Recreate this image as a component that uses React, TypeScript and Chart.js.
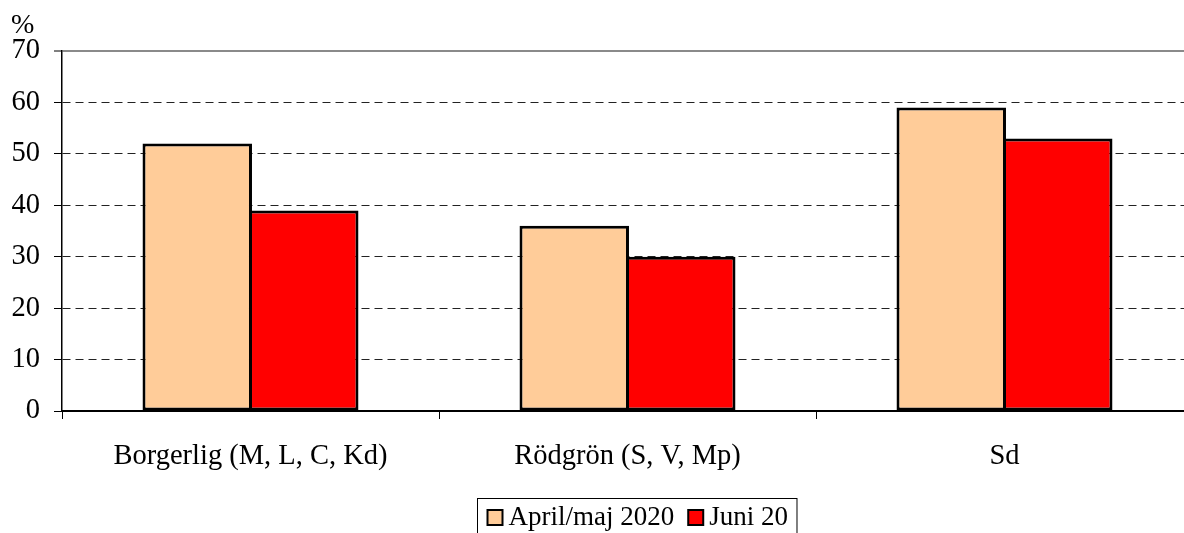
import React, { useEffect, useRef } from "react";
import { Chart, registerables } from "chart.js";

Chart.register(...registerables);

const categories = ["Borgerlig (M, L, C, Kd)", "Rödgrön (S, V, Mp)", "Sd"];
const seriesNames = ["April/maj 2020", "Juni 20"];
const aprilMaj2020 = [52, 36, 59];
const juni20 = [39, 30, 53];
const yTicks = [0, 10, 20, 30, 40, 50, 60, 70];
const unitLabel = "%";

const FONT = '"Liberation Serif", "Times New Roman", serif';

const extrasPlugin = {
  id: "extras",
  afterDraw(chart: any) {
    const ctx = chart.ctx as CanvasRenderingContext2D;
    ctx.save();
    // unit label
    ctx.font = `28px ${FONT}`;
    ctx.fillStyle = "#000";
    ctx.textAlign = "left";
    ctx.textBaseline = "alphabetic";
    ctx.fillText(unitLabel, 11, 33);

    // legend
    ctx.font = `27px ${FONT}`;
    const ds = chart.data.datasets;
    const sq = 15;
    const gapSqText = 6;
    const gapItems = 14;
    const padL = 10;
    const padR = 9;
    let total = padL + padR;
    const widths = ds.map((d: any) => ctx.measureText(d.label).width);
    widths.forEach((w: number, i: number) => {
      total += sq + gapSqText + w + (i < widths.length - 1 ? gapItems : 0);
    });
    const cx = 636.5;
    const left = Math.round(cx - total / 2) + 0.5;
    const top = 498.5;
    ctx.lineWidth = 1;
    ctx.strokeStyle = "#000";
    ctx.strokeRect(left, top, total, 60);
    let x = left + padL;
    const baseline = 525;
    ds.forEach((d: any, i: number) => {
      ctx.fillStyle = d.backgroundColor;
      ctx.fillRect(x, 510, sq, sq);
      ctx.lineWidth = 2;
      ctx.strokeStyle = "#000";
      ctx.strokeRect(x, 510, sq, sq);
      x += sq + gapSqText;
      ctx.fillStyle = "#000";
      ctx.fillText(d.label, x, baseline);
      x += widths[i] + gapItems;
    });
    ctx.restore();
  },
};

export default function App() {
  const ref = useRef<HTMLCanvasElement | null>(null);
  useEffect(() => {
    if (!ref.current) return;
    const chart = new Chart(ref.current, {
      type: "bar",
      data: {
        labels: categories,
        datasets: [
          {
            label: seriesNames[0],
            data: aprilMaj2020,
            backgroundColor: "#FFCC99",
            borderColor: "#000",
            borderWidth: 3,
            borderSkipped: false,
            inflateAmount: 0,
          },
          {
            label: seriesNames[1],
            data: juni20,
            backgroundColor: "#FF0000",
            borderColor: "#000",
            borderWidth: 3,
            borderSkipped: false,
            inflateAmount: 0,
          },
        ],
      },
      options: {
        animation: false,
        responsive: false,
        maintainAspectRatio: false,
        devicePixelRatio: 1,
        layout: { padding: { top: 51, left: 0, right: 0, bottom: 0 } },
        plugins: {
          legend: { display: false },
          tooltip: { enabled: false },
          title: { display: false },
        },
        datasets: {
          bar: { barPercentage: 1.028, categoryPercentage: 0.565 },
        },
        scales: {
          x: {
            offset: true,
            grid: {
              offset: true,
              drawOnChartArea: false,
              drawTicks: true,
              tickLength: 8,
              tickColor: "#000",
              tickWidth: 1,
            },
            border: { display: true, color: "#000", width: 2, z: 1 },
            ticks: {
              color: "#000",
              font: { family: FONT, size: 28.5 },
              padding: 20,
              maxRotation: 0,
              autoSkip: false,
            },
            afterFit(scale: any) {
              scale.height = 122;
            },
          },
          y: {
            min: 0,
            max: 70,
            afterBuildTicks(scale: any) {
              scale.ticks = yTicks.map((v) => ({ value: v }));
            },
            grid: {
              drawTicks: true,
              tickLength: 8,
              tickColor: "#000",
              tickWidth: 1,
              color: (c: any) =>
                c.tick && c.tick.value === 70
                  ? "#8a8a8a"
                  : c.tick && c.tick.value === 0
                  ? "#000"
                  : "#222",
              lineWidth: (c: any) => (c.tick && c.tick.value === 70 ? 2 : 1),
            },
            border: {
              display: true,
              color: "#000",
              width: 1.5,
              dash: (c: any) =>
                c.tick && (c.tick.value === 70 || c.tick.value === 0) ? [] : [8, 5],
            },
            ticks: {
              color: "#000",
              font: { family: FONT, size: 28.5 },
              padding: 14,
            },
            afterFit(scale: any) {
              scale.width = 62;
            },
          },
        },
      },
      plugins: [extrasPlugin],
    });
    return () => chart.destroy();
  }, []);

  return (
    <div
      style={{
        position: "fixed",
        left: 0,
        top: 0,
        width: 1184,
        height: 533,
        overflow: "hidden",
        background: "#fff",
      }}
    >
      <div style={{ width: 1193, height: 533 }}>
        <canvas ref={ref} width={1193} height={533} style={{ display: "block" }} />
      </div>
    </div>
  );
}
